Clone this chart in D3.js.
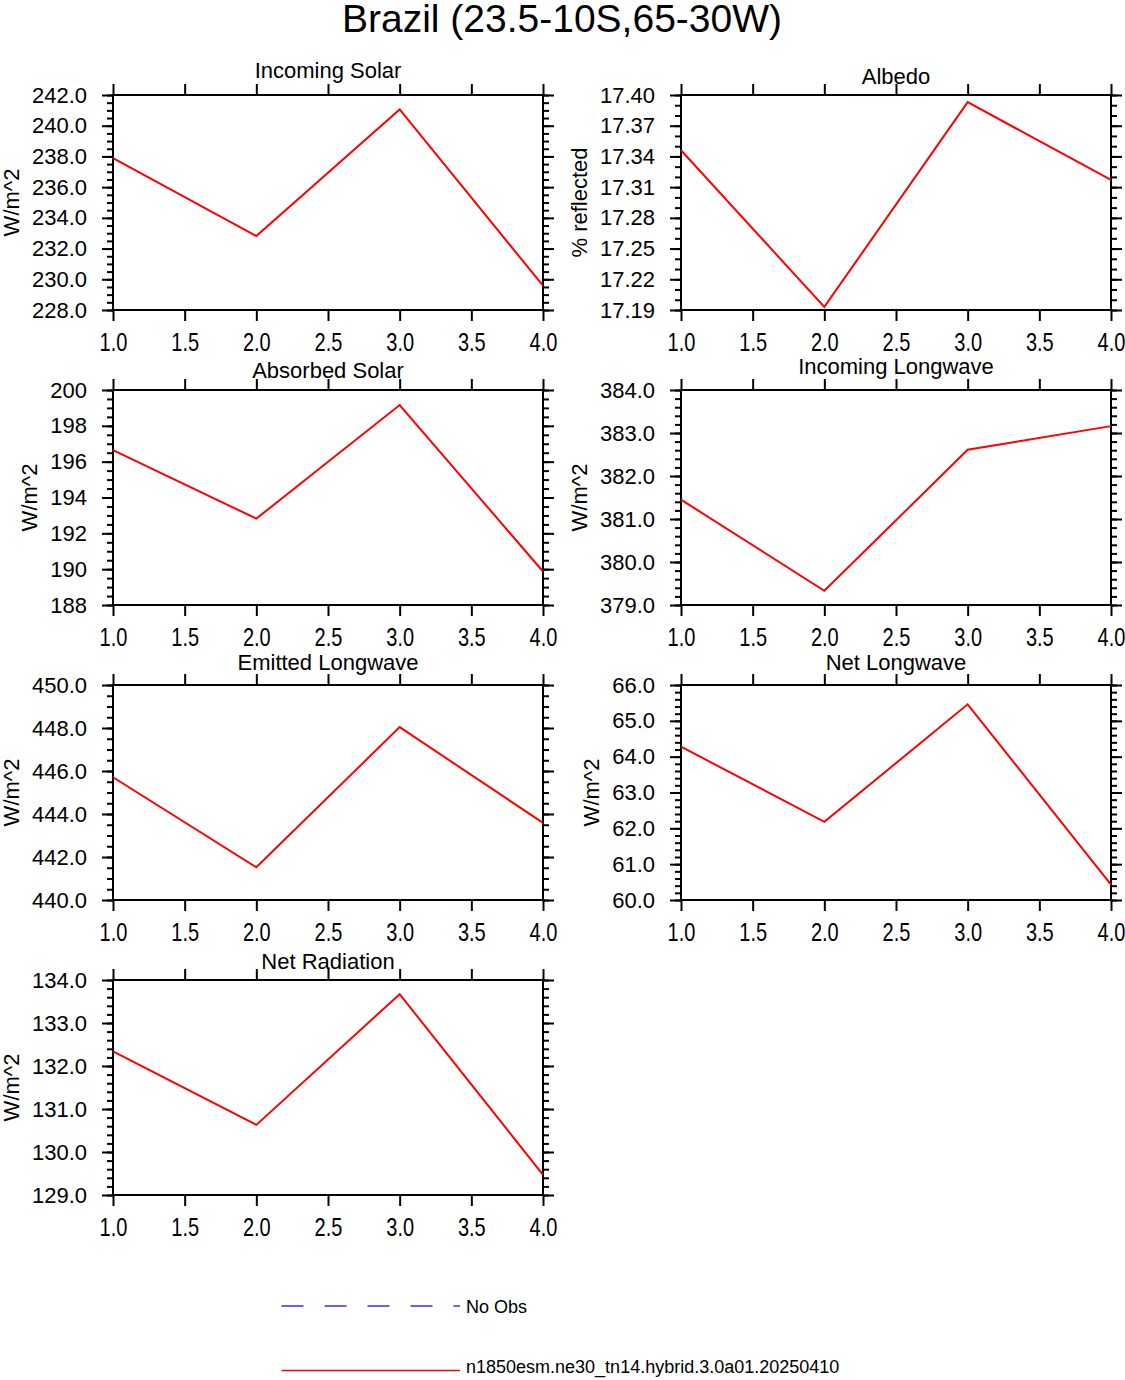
<!DOCTYPE html>
<html>
<head>
<meta charset="utf-8">
<script src="https://cdn.jsdelivr.net/npm/d3@7"></script>
<style>
body { margin: 0; background: #fff; }
text { font-family: "Liberation Sans", Arial, Helvetica, sans-serif; fill: #000; }
</style>
</head>
<body>
<div class="chart"></div>
<script>
var xValues = [1, 2, 3, 4],
xTicks = [1.0, 1.5, 2.0, 2.5, 3.0, 3.5, 4.0];

var incomingSolar = [237.89, 232.82, 241.06, 229.58],
albedo = [17.346, 17.193, 17.393, 17.317],
absorbedSolar = [196.64, 192.82, 199.16, 189.87],
incomingLongwave = [381.45, 379.33, 382.61, 383.16],
emittedLongwave = [445.71, 441.52, 448.04, 443.59],
netLongwave = [64.28, 62.18, 65.46, 60.43],
netRadiation = [132.34, 130.63, 133.67, 129.47];

var panelTitles = ["Incoming Solar", "Albedo", "Absorbed Solar", "Incoming Longwave",
  "Emitted Longwave", "Net Longwave", "Net Radiation"],
panelUnits = ["W/m^2", "% reflected", "W/m^2", "W/m^2", "W/m^2", "W/m^2", "W/m^2"],
panelSeries = [incomingSolar, albedo, absorbedSolar, incomingLongwave, emittedLongwave, netLongwave, netRadiation],
yDomains = [[228, 242], [17.19, 17.40], [188, 200], [379, 384], [440, 450], [60, 66], [129, 134]],
yMajorSteps = [2, 0.03, 2, 1, 2, 1, 1],
yMinorSteps = [0.5, 0.01, 0.5, 0.2, 0.5, 0.2, 0.2],
yDecimals = [1, 2, 0, 1, 1, 1, 1];

var mainTitle = "Brazil (23.5-10S,65-30W)",
legendLabels = ["No Obs", "n1850esm.ne30_tn14.hybrid.3.0a01.20250410"];

// layout
var width = 1125,
height = 1380,
plotW = 430,
plotH = 215,
colLeft = [113, 681],
rowTop = 95,
rowStep = 295,
titleDy = [-17, -11, -12, -16, -15.5, -15.5, -11];

var svg = d3.select(".chart")
  .append("svg")
  .attr("width", width)
  .attr("height", height);

svg.append("text")
  .attr("x", 562)
  .attr("y", 32)
  .attr("text-anchor", "middle")
  .style("font-size", "39px")
  .text(mainTitle);

var x = d3.scaleLinear().domain([1, 4]).range([0, plotW]);

function stepTicks(dom, step) {
  var n = Math.round((dom[1] - dom[0]) / step);
  return d3.range(n + 1).map(function(i){ return +(dom[0] + i * step).toFixed(6); });
}

panelSeries.forEach(function(series, i) {
  var left = colLeft[i % 2],
  top = rowTop + Math.floor(i / 2) * rowStep;
  var y = d3.scaleLinear().domain(yDomains[i]).range([plotH, 0]);
  var major = stepTicks(yDomains[i], yMajorSteps[i]),
  minor = stepTicks(yDomains[i], yMinorSteps[i]);

  var g = svg.append("g").attr("transform", "translate(" + left + "," + top + ")");

  // minor ticks, both sides
  g.append("g").call(d3.axisLeft(y).tickValues(minor).tickSize(6).tickFormat(""));
  g.append("g").attr("transform", "translate(" + plotW + ",0)")
    .call(d3.axisRight(y).tickValues(minor).tickSize(6).tickFormat(""));

  var yAxis = g.append("g")
    .call(d3.axisLeft(y).tickValues(major).tickSize(11).tickPadding(15)
      .tickFormat(d3.format("." + yDecimals[i] + "f")));
  yAxis.selectAll("text").style("font-size", "22px");

  g.append("g").attr("transform", "translate(" + plotW + ",0)")
    .call(d3.axisRight(y).tickValues(major).tickSize(11).tickFormat(""));

  g.append("g").call(d3.axisTop(x).tickValues(xTicks).tickSize(11).tickFormat(""));

  var xAxis = g.append("g").attr("transform", "translate(0," + plotH + ")")
    .call(d3.axisBottom(x).tickValues(xTicks).tickSize(11).tickFormat(d3.format(".1f")));
  xAxis.selectAll("text")
    .attr("y", null).attr("dy", null)
    .attr("transform", "translate(0,41) scale(1,1.25)")
    .style("font-size", "20px");

  g.selectAll(".domain").remove();
  g.selectAll(".tick line").attr("stroke", "#000").attr("stroke-width", 2);

  g.append("rect")
    .attr("width", plotW)
    .attr("height", plotH)
    .attr("fill", "none")
    .attr("stroke", "#000")
    .attr("stroke-width", 2);

  g.append("path")
    .datum(series)
    .attr("fill", "none")
    .attr("stroke", "red")
    .attr("stroke-width", 2)
    .attr("d", d3.line()
      .x(function(d, j){ return x(xValues[j]); })
      .y(function(d){ return y(d); }));

  g.append("text")
    .attr("x", plotW / 2)
    .attr("y", titleDy[i])
    .attr("text-anchor", "middle")
    .style("font-size", "22px")
    .text(panelTitles[i]);

  // unit label sits just left of the widest tick label
  var lx = d3.min(yAxis.selectAll("text").nodes(), function(n){ return n.getBBox().x; });
  g.append("text")
    .attr("transform", "translate(" + (lx - 13) + "," + (plotH / 2) + ") rotate(-90)")
    .attr("text-anchor", "middle")
    .style("font-size", "22px")
    .text(panelUnits[i]);
});

// legend
var legendY = [1306, 1370.5],
legendTextY = [1313, 1373];
var legend = svg.append("g");
legend.append("line")
  .attr("x1", 281.5).attr("x2", 460)
  .attr("y1", legendY[0]).attr("y2", legendY[0])
  .attr("stroke", "#3030ff")
  .attr("stroke-width", 1.3)
  .attr("stroke-dasharray", "22,21");
legend.append("line")
  .attr("x1", 281.5).attr("x2", 460)
  .attr("y1", legendY[1]).attr("y2", legendY[1])
  .attr("stroke", "red")
  .attr("stroke-width", 1.3);
legend.selectAll("text")
  .data(legendLabels)
  .enter().append("text")
  .attr("x", 466)
  .attr("y", function(d, i){ return legendTextY[i]; })
  .style("font-size", "18px")
  .text(function(d){ return d; });
</script>
</body>
</html>
